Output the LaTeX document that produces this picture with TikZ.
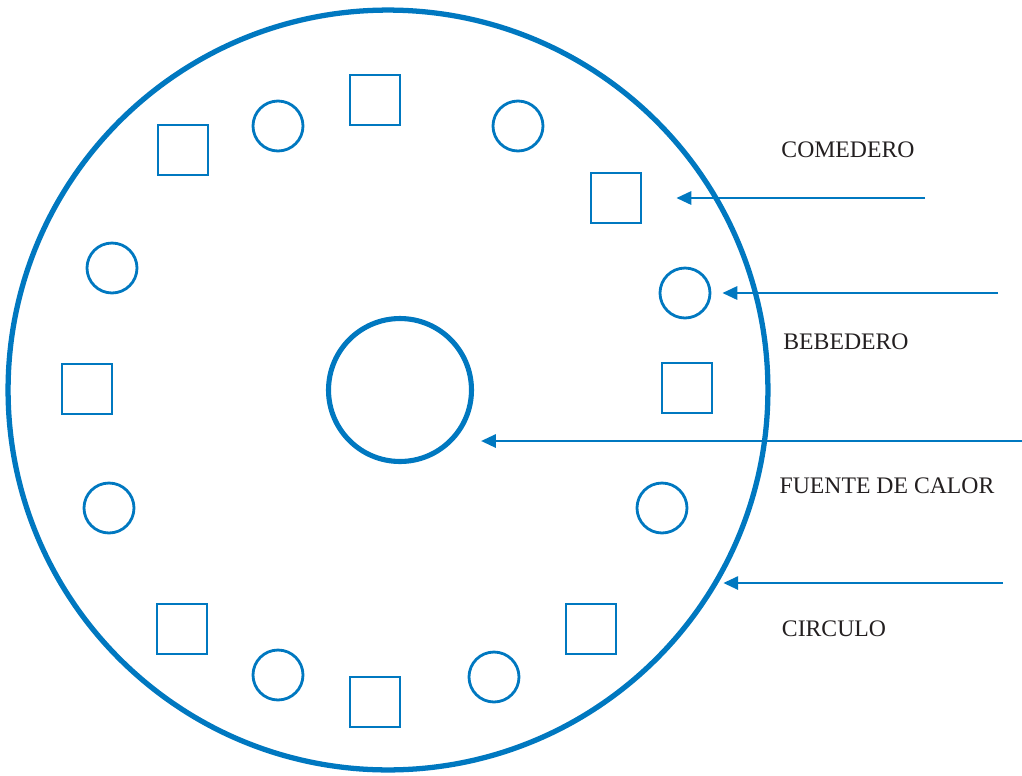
\documentclass[tikz,border=0pt]{standalone}
\usepackage{fontspec}
\setmainfont{Liberation Serif}
\usetikzlibrary{arrows.meta,calc}
\definecolor{azul}{RGB}{0,120,192}
\definecolor{texto}{RGB}{35,31,32}
\tikzset{
  comedero/.style = {draw=azul, line width=1.6pt, rectangle, minimum size=1cm, inner sep=0pt},
  bebedero/.style = {draw=azul, line width=1.6pt, circle, minimum size=1cm, inner sep=0pt},
  flecha/.style = {draw=azul, line width=1.5pt, -{Triangle[length=8.5pt,width=7.5pt]}},
  rotulo/.style = {text=texto, font=\fontsize{13.5}{16}\selectfont, inner sep=0pt}
}

\begin{document}
\begin{tikzpicture}[x=0.02cm, y=-0.02cm]
    \useasboundingbox (0,0) rectangle (1022,775);
    \node[circle, draw=azul, line width=3pt, minimum size=15.2cm, inner sep=0pt] (big) at (388,390) {};
    \node[circle, draw=azul, line width=2.9pt, minimum size=2.86cm, inner sep=0pt] (fuente) at (400,390) {};
    \node[comedero] (com1) at (375,100) {};
    \node[comedero] (com2) at (183,150) {};
    \node[comedero] (com3) at (616,198) {};
    \node[comedero] (com4) at (87,389) {};
    \node[comedero] (com5) at (687,388) {};
    \node[comedero] (com6) at (182,629) {};
    \node[comedero] (com7) at (591,629) {};
    \node[comedero] (com8) at (375,702) {};
    \node[bebedero] (beb1) at (278,126) {};
    \node[bebedero] (beb2) at (518,126) {};
    \node[bebedero] (beb3) at (112,268) {};
    \node[bebedero] (beb4) at (685,293) {};
    \node[bebedero] (beb5) at (109,508) {};
    \node[bebedero] (beb6) at (662,508) {};
    \node[bebedero] (beb7) at (278,675) {};
    \node[bebedero] (beb8) at (494,677) {};
    \node[rotulo] (tCom) at (848,150) {COMEDERO};
    \node[rotulo] (tBeb) at (846,342) {BEBEDERO};
    \node[rotulo] (tFue) at (887,486) {FUENTE DE CALOR};
    \node[rotulo] (tCir) at (834,629) {CIRCULO};
    \coordinate (aCom) at (925,198);
    \coordinate (aBeb) at (998,293);
    \coordinate (aFue) at (1022,441);
    \coordinate (aCir) at (1003,583);
    \draw[flecha, shorten >=0.68cm] (aCom) -- (com3);
    \draw[flecha, shorten >=0.22cm] (aBeb) -- (beb4);
    \draw[flecha, shorten >=0.14cm] (aFue) -- (aFue -| fuente.east);
    \draw[flecha, shorten >=0.08cm] (aCir) -- (aCir -| big.-30.5);
\end{tikzpicture}
\end{document}
